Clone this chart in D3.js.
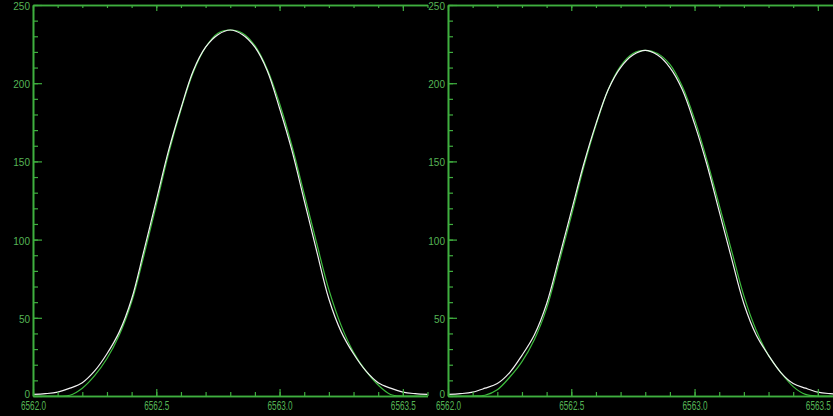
<!DOCTYPE html>
<html>
<head>
<meta charset="utf-8">
<script src="https://cdn.jsdelivr.net/npm/d3@7"></script>
<style>
  html, body { margin: 0; padding: 0; background: #000; overflow: hidden; }
  text { font-family: "Liberation Sans", Arial, sans-serif; fill: #55b455; }
</style>
</head>
<body>
<div id="chart"></div>
<script>
// datos (longitud de onda en Angstrom, intensidad)
const wavelength = [
  6562.00, 6562.05, 6562.10, 6562.15, 6562.20, 6562.25, 6562.30, 6562.35, 6562.40,
  6562.45, 6562.50, 6562.55, 6562.60, 6562.65, 6562.70, 6562.75, 6562.80, 6562.85,
  6562.90, 6562.95, 6563.00, 6563.05, 6563.10, 6563.15, 6563.20, 6563.25, 6563.30,
  6563.35, 6563.40, 6563.45, 6563.50, 6563.55, 6563.60
];

// panel izquierdo
const obsLeft = [
  1, 1.5, 2.5, 5, 8.5, 16, 27, 41, 62,
  93, 125, 157, 184, 208, 223, 231, 234, 231,
  223, 208, 184, 157, 125, 93, 62, 41, 27,
  16, 8.5, 5, 2.5, 1.5, 1
];
const fitLeft = [
  0, 0, 0, 0.5, 5, 13, 24, 39, 60,
  90, 122, 155, 183, 207, 223, 232, 234, 232,
  224, 209, 187, 160, 129, 98, 68, 45, 28,
  16, 7, 1, 0, 0, 0
];

// panel derecho
const obsRight = [
  1, 1.5, 2.5, 5, 8, 15, 26, 39, 59,
  88, 118, 148, 174, 196, 210, 218, 221, 218,
  210, 196, 174, 148, 118, 88, 59, 39, 26,
  15, 8, 5, 2.5, 1.5, 1
];
const fitRight = [
  0, 0, 0, 0.5, 4, 12, 22, 36, 56,
  85, 115, 146, 173, 196, 211, 219, 221, 219,
  212, 198, 177, 151, 122, 93, 64, 42, 26,
  15, 6, 1, 0, 0, 0
];

const xMajor = [6562.0, 6562.5, 6563.0, 6563.5];
const xLabels = ["6562.0", "6562.5", "6563.0", "6563.5"];
const yMajor = [0, 50, 100, 150, 200, 250];
const yLabels = ["0", "50", "100", "150", "200", "250"];

const width = 833;
const height = 416;
const axisColor = "#3fae3f";

const svg = d3
  .select("#chart")
  .append("svg")
  .attr("width", width)
  .attr("height", height)
  .style("background", "#000");

const panels = [
  { left: 33, obs: obsLeft, fit: fitLeft },
  { left: 448, obs: obsRight, fit: fitRight },
];

const xMinor = d3.range(62.0, 63.65, 0.1).map((d) => 6500 + Math.round(d * 10) / 10);
const yMinor = d3.range(0, 251, 10);

function styleAxis(sel) {
  sel.select(".domain").attr("stroke", axisColor).attr("stroke-width", 1.6);
  sel.selectAll(".tick line").attr("stroke", axisColor).attr("stroke-width", 1.2);
}

panels.forEach((p) => {
  const x = d3.scaleLinear().domain([6562.0, 6563.6]).range([p.left, p.left + 394.5]);
  const y = d3.scaleLinear().domain([0, 250]).range([396, 5]);
  const g = svg.append("g");

  // curvas: ajuste (verde) y observado (blanco)
  const line = d3
    .line()
    .x((d, i) => x(wavelength[i]))
    .y((d) => y(d))
    .curve(d3.curveCatmullRom.alpha(0.5));

  g.append("path")
    .datum(p.fit)
    .attr("d", line)
    .attr("fill", "none")
    .attr("stroke", "#3dbb3d")
    .attr("stroke-width", 1.2);

  g.append("path")
    .datum(p.obs)
    .attr("d", line)
    .attr("fill", "none")
    .attr("stroke", "#f2f2f2")
    .attr("stroke-width", 1.2);

  // eje inferior: menores, mayores con etiqueta
  g.append("g")
    .attr("transform", "translate(0,396)")
    .call(d3.axisBottom(x).tickValues(xMinor).tickSizeInner(-4).tickSizeOuter(0).tickFormat(""))
    .call(styleAxis);

  const bottom = g
    .append("g")
    .attr("transform", "translate(0,396)")
    .call(
      d3
        .axisBottom(x)
        .tickValues(xMajor)
        .tickSizeInner(-7)
        .tickSizeOuter(0)
        .tickPadding(5)
        .tickFormat((d, i) => xLabels[i])
    )
    .call(styleAxis);
  bottom
    .selectAll("text")
    .attr("font-size", 12.5)
    .attr("fill", "#55b455")
    .attr("textLength", 25)
    .attr("lengthAdjust", "spacingAndGlyphs");

  // eje superior
  g.append("g")
    .attr("transform", "translate(0,5)")
    .call(d3.axisBottom(x).tickValues(xMinor).tickSizeInner(3).tickSizeOuter(0).tickFormat(""))
    .call(styleAxis);
  g.append("g")
    .attr("transform", "translate(0,5)")
    .call(d3.axisBottom(x).tickValues(xMajor).tickSizeInner(6).tickSizeOuter(0).tickFormat(""))
    .call(styleAxis);

  // eje izquierdo
  g.append("g")
    .attr("transform", `translate(${p.left},0)`)
    .call(d3.axisLeft(y).tickValues(yMinor).tickSizeInner(-5).tickSizeOuter(0).tickFormat(""))
    .call(styleAxis);

  const left = g
    .append("g")
    .attr("transform", `translate(${p.left},0)`)
    .call(
      d3
        .axisLeft(y)
        .tickValues(yMajor)
        .tickSizeInner(-9)
        .tickSizeOuter(0)
        .tickPadding(3)
        .tickFormat((d, i) => yLabels[i])
    )
    .call(styleAxis);
  left
    .selectAll("text")
    .attr("font-size", 10)
    .attr("fill", "#55b455")
    .attr("dy", "0.45em");
  left.selectAll(".tick").filter((d) => d === 0).select("text").attr("dy", "0.1em");
});
</script>
</body>
</html>
